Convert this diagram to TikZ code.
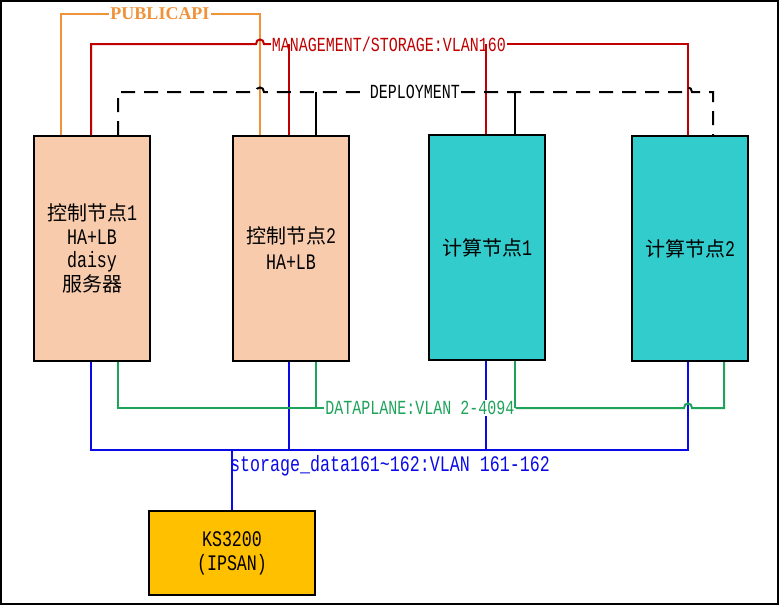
\documentclass[tikz,border=0pt]{standalone}
\usepackage{fontspec}
\setmainfont{Liberation Mono}[FakeStretch=0.75]
\newfontfamily\cjk{Noto Sans CJK SC}
\newfontfamily\pubfont{Liberation Serif}
\definecolor{orangeline}{RGB}{240,146,58}
\definecolor{redline}{RGB}{192,0,0}
\definecolor{greenline}{RGB}{30,163,90}
\definecolor{blueline}{RGB}{10,10,230}
\definecolor{peach}{RGB}{248,203,173}
\definecolor{teal}{RGB}{51,204,204}
\definecolor{gold}{RGB}{255,192,0}
\begin{document}
\begin{tikzpicture}[x=1pt,y=-1pt,
  box/.style={draw=black, line width=2pt, anchor=north west, minimum width=116pt, minimum height=225pt, align=center, font=\fontsize{22.2}{23.7}\selectfont, inner sep=2pt},
  ctrlbox/.style={box, fill=peach},
  compbox/.style={box, fill=teal},
  sanbox/.style={draw=black, line width=2pt, anchor=north west, minimum width=166pt, minimum height=84pt, align=center, fill=gold, font=\fontsize{22.2}{24}\selectfont},
  lbl/.style={inner sep=1pt, font=\fontsize{20}{20}\selectfont},
  oline/.style={draw=orangeline, line width=2pt},
  rline/.style={draw=redline, line width=2pt},
  dline/.style={draw=black, line width=2pt, dash pattern=on 14pt off 9pt},
  kline/.style={draw=black, line width=2pt},
  gline/.style={draw=greenline, line width=2pt},
  bline/.style={draw=blueline, line width=2pt},
]
\useasboundingbox (0,0) rectangle (780,606);
\draw[line width=2pt] (1,1) rectangle (778,604);

% boxes
\node[ctrlbox] (c1) at (33,135) {{\cjk\fontsize{20}{23.7}\selectfont 控制节点}1\\HA+LB\\daisy\\{\cjk\fontsize{20}{23.7}\selectfont 服务器}};
\node[ctrlbox, font=\fontsize{22.2}{26}\selectfont] (c2) at (232,135) {{\cjk\fontsize{20}{26}\selectfont 控制节点}2\\HA+LB};
\node[compbox] (c3) at (428,134) {{\cjk\fontsize{20}{23.7}\selectfont 计算节点}1};
\node[compbox] (c4) at (631,135) {{\cjk\fontsize{20}{23.7}\selectfont 计算节点}2};
\node[sanbox] (ks) at (148,510) {KS3200\\(IPSAN)};

% labels
\node[lbl, text=orangeline, font=\pubfont\bfseries\fontsize{18}{20}\selectfont] (pub) at (160,14) {PUBLICAPI};
\node[lbl, text=redline] (mg) at (389,44) {MANAGEMENT/STORAGE:VLAN160};
\node[lbl, text=black] (dep) at (415,92) {DEPLOYMENT};

% PUBLICAPI
\draw[oline] (61,0 |- c1.north) |- (pub.west);
\draw[oline] (pub.east) -| (260,0 |- c2.north);

% MANAGEMENT
\draw[rline] (91,0 |- c1.north) -- (91,44) -- (256,44) .. controls (256,38) and (264,38) .. (264,44) -- (mg.west);
\draw[rline] (mg.east) -| (688,0 |- c4.north);
\draw[rline] (289,0 |- c2.north) -- (289,44);
\draw[rline] (486,0 |- c3.north) -- (486,44);

% DEPLOYMENT
\draw[dline] (118,0 |- c1.north) -- (118,92) -- (256,92) .. controls (256,86) and (264,86) .. (264,92) -- (dep.west);
\draw[dline] (dep.east) -- (684,92) .. controls (684,86) and (692,86) .. (692,92) -- (713,92) -- (713,0 |- c4.north);
\draw[kline] (316,0 |- c2.north) -- (316,92);
\draw[kline] (515,0 |- c3.north) -- (515,92);

% storage
\draw[bline] (91,0 |- c1.south) -- (91,450) -- (688,450) -- (688,0 |- c4.south);
\draw[bline] (289,0 |- c2.south) -- (289,450);
\draw[bline] (486,0 |- c3.south) -- (486,450);
\draw[bline] (ks.north) -- (ks.north |- 0,450);
\node[lbl, text=blueline, font=\fontsize{22.2}{22}\selectfont] (st) at (390,466) {storage\_data161\textasciitilde162:VLAN 161-162};

% DATAPLANE
\node[lbl, text=greenline, fill=white] (dp) at (420,408) {DATAPLANE:VLAN 2-4094};
\draw[gline] (118,0 |- c1.south) |- (dp.west);
\draw[gline] (316,0 |- c2.south) -- (316,408);
\draw[gline] (515,0 |- c3.south) -- (515,408);
\draw[gline] (dp.east) -- (684,408) .. controls (684,402) and (692,402) .. (692,408) -- (724,408) -- (724,0 |- c4.south);
\end{tikzpicture}
\end{document}
